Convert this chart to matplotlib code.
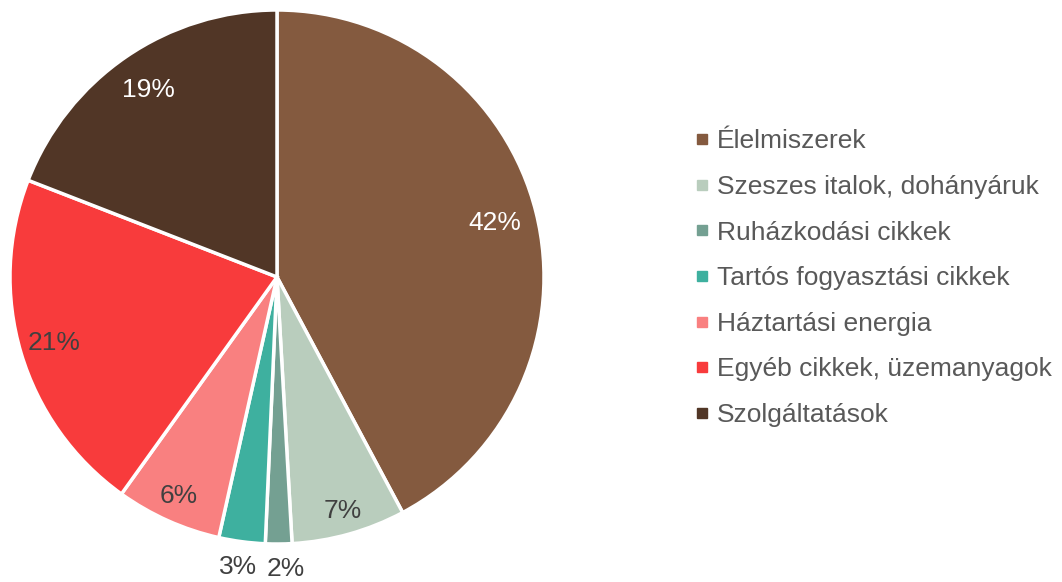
import matplotlib.pyplot as plt
from matplotlib.lines import Line2D
import numpy as np

plt.rcParams['font.family'] = ['Liberation Sans', 'DejaVu Sans']

categories = ['Élelmiszerek', 'Szeszes italok, dohányáruk', 'Ruházkodási cikkek',
              'Tartós fogyasztási cikkek', 'Háztartási energia',
              'Egyéb cikkek, üzemanyagok', 'Szolgáltatások']
shares = [42.2, 6.9, 1.6, 2.8, 6.4, 21.0, 19.1]
colors = ['#845A3F', '#B9CDBD', '#74A092', '#3EB09F', '#F98080', '#F83B3C', '#513626']
label_colors = ['white', '#404040', '#404040', '#404040', '#404040', '#404040', 'white']
label_dist = [0.84, 0.91, 1.095, 1.095, 0.90, 0.87, 0.85]
# small sideways nudge so the two outside labels don't collide
label_dx = [0, 0, 0.026, 0, 0, 0, 0]

fig = plt.figure(figsize=(10.62, 5.82), dpi=100)
ax = fig.add_axes([10 / 1062, 38 / 582, 534 / 1062, 534 / 582])

wedges, _ = ax.pie(shares, colors=colors, startangle=90, counterclock=False,
                   wedgeprops=dict(edgecolor='white', linewidth=2.5))
ax.set_xlim(-1, 1)
ax.set_ylim(-1, 1)
ax.set_aspect('equal')

# percentage labels at the middle angle of each wedge
for w, val, c, d, dx in zip(wedges, shares, label_colors, label_dist, label_dx):
    mid = np.deg2rad((w.theta1 + w.theta2) / 2)
    ax.text(d * np.cos(mid) + dx, d * np.sin(mid), f'{round(val):d}%', color=c,
            fontsize=19, ha='center', va='center', clip_on=False)

handles = [Line2D([], [], marker='s', linestyle='', markersize=7,
                  markerfacecolor=col, markeredgecolor=col) for col in colors]
leg = fig.legend(handles, categories, loc='center left',
                 bbox_to_anchor=(672 / 1062, 0.522), frameon=False,
                 fontsize=19, labelcolor='#595959', handlelength=0.5,
                 handletextpad=0.3, labelspacing=0.82)

fig.savefig('out.png', dpi=100)
